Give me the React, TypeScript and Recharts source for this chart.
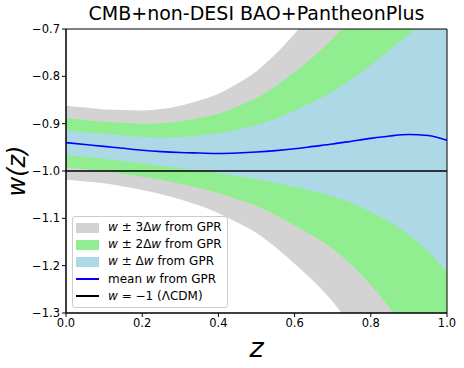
import {
  Area,
  ComposedChart,
  Legend,
  Line,
  ReferenceArea,
  ReferenceLine,
  XAxis,
  YAxis,
} from 'recharts'

const FONT = "'DejaVu Sans', sans-serif"

// redshift grid and values
const Z = [0, 0.05, 0.1, 0.15, 0.2, 0.25, 0.3, 0.35, 0.4, 0.45, 0.5, 0.55, 0.6, 0.65, 0.7, 0.75, 0.8, 0.85, 0.9, 0.95, 1.0]
const MEAN_W = [
  -0.94, -0.944, -0.948, -0.952, -0.956, -0.959, -0.961, -0.962, -0.963, -0.962, -0.96, -0.957, -0.953,
  -0.948, -0.943, -0.937, -0.931, -0.926, -0.923, -0.925, -0.935,
]
const DELTA_W = [
  0.026, 0.026, 0.026, 0.027, 0.028, 0.03, 0.033, 0.037, 0.042, 0.049, 0.057, 0.068, 0.081, 0.095, 0.111,
  0.131, 0.155, 0.182, 0.212, 0.244, 0.279,
]

const X_TICKS = [0, 0.2, 0.4, 0.6, 0.8, 1.0]
const Y_TICKS = [-1.3, -1.2, -1.1, -1.0, -0.9, -0.8, -0.7]
const W_LCDM = -1

const TITLE = 'CMB+non-DESI BAO+PantheonPlus'

const data = Z.map((z, i) => {
  const m = MEAN_W[i]
  const d = DELTA_W[i]
  return {
    z,
    mean: m,
    band1: [m - d, m + d],
    band2: [m - 2 * d, m + 2 * d],
    band3: [m - 3 * d, m + 3 * d],
  }
})

const TICK_STYLE = { fontSize: 11.5, fontFamily: FONT, fill: '#000' }

const fmtMinus = (v: number) => v.toFixed(1).replace('-', '\u2212')

function LegendBox() {
  const w = <i>w</i>
  const rows = [
    { kind: 'patch', color: '#d3d3d3', label: <>{w} ± 3Δ{w} from GPR</> },
    { kind: 'patch', color: '#90ee90', label: <>{w} ± 2Δ{w} from GPR</> },
    { kind: 'patch', color: '#add8e6', label: <>{w} ± Δ{w} from GPR</> },
    { kind: 'line', color: '#0000ff', label: <>mean {w} from GPR</> },
    { kind: 'line', color: '#000000', label: <>{w} = −1 (ΛCDM)</> },
  ]
  return (
    <div
      style={{
        fontFamily: FONT,
        fontSize: 12,
        background: 'rgba(255,255,255,0.8)',
        border: '1px solid #cccccc',
        borderRadius: 3,
        padding: '2px 5px 2px 3px',
        lineHeight: '17.2px',
        color: '#000',
        whiteSpace: 'nowrap',
      }}
    >
      {rows.map((r, i) => (
        <div key={i} style={{ display: 'flex', alignItems: 'center' }}>
          <span style={{ width: 23, height: 10, display: 'inline-flex', alignItems: 'center', marginRight: 9 }}>
            {r.kind === 'patch' ? (
              <span style={{ width: 23, height: 10, background: r.color }} />
            ) : (
              <span style={{ width: 23, height: 2, background: r.color }} />
            )}
          </span>
          <span>{r.label}</span>
        </div>
      ))}
    </div>
  )
}

export default function App() {
  return (
    <div style={{ position: 'fixed', left: 0, top: 0, width: 464, height: 368, background: '#fff' }}>
      <div
        style={{
          position: 'absolute',
          left: 40,
          width: 433,
          top: 2,
          textAlign: 'center',
          fontFamily: FONT,
          fontSize: 19,
          color: '#000',
        }}
      >
        {TITLE}
      </div>
      <ComposedChart width={464} height={368} data={data} margin={{ top: 29, right: 17, bottom: 0, left: 0 }}>
        <XAxis
          dataKey="z"
          type="number"
          domain={[0, 1]}
          ticks={X_TICKS}
          tickFormatter={(v) => Number(v).toFixed(1)}
          tick={TICK_STYLE}
          tickSize={4}
          tickLine={{ stroke: '#000' }}
          axisLine={{ stroke: '#000' }}
          height={55}
          label={{
            value: 'z',
            position: 'insideBottom',
            offset: 11,
            style: { fontSize: 27, fontStyle: 'italic', fontFamily: FONT, fill: '#000' },
          }}
        />
        <YAxis
          type="number"
          domain={[-1.3, -0.7]}
          allowDataOverflow
          ticks={Y_TICKS}
          tickFormatter={fmtMinus}
          tick={TICK_STYLE}
          tickSize={4}
          tickLine={{ stroke: '#000' }}
          axisLine={{ stroke: '#000' }}
          width={66}
          label={{
            value: 'w(z)',
            angle: -90,
            position: 'insideLeft',
            offset: 16,
            style: { fontSize: 24, fontStyle: 'italic', fontFamily: FONT, fill: '#000', textAnchor: 'middle' },
          }}
        />
        <Area type="monotone" dataKey="band3" fill="#d3d3d3" fillOpacity={1} stroke="none" isAnimationActive={false} />
        <Area type="monotone" dataKey="band2" fill="#90ee90" fillOpacity={1} stroke="none" isAnimationActive={false} />
        <Area type="monotone" dataKey="band1" fill="#add8e6" fillOpacity={1} stroke="none" isAnimationActive={false} />
        <Line type="monotone" dataKey="mean" stroke="#0000ff" strokeWidth={1.6} dot={false} isAnimationActive={false} />
        <ReferenceLine y={W_LCDM} stroke="#000" strokeWidth={1.6} />
        <ReferenceArea x1={0} x2={1} y1={-1.3} y2={-0.7} fill="none" stroke="#000" strokeWidth={1} />
        <Legend
          layout="vertical"
          align="center"
          verticalAlign="middle"
          wrapperStyle={{ left: 72, top: 216, width: 'auto' }}
          content={() => <LegendBox />}
        />
      </ComposedChart>
    </div>
  )
}
